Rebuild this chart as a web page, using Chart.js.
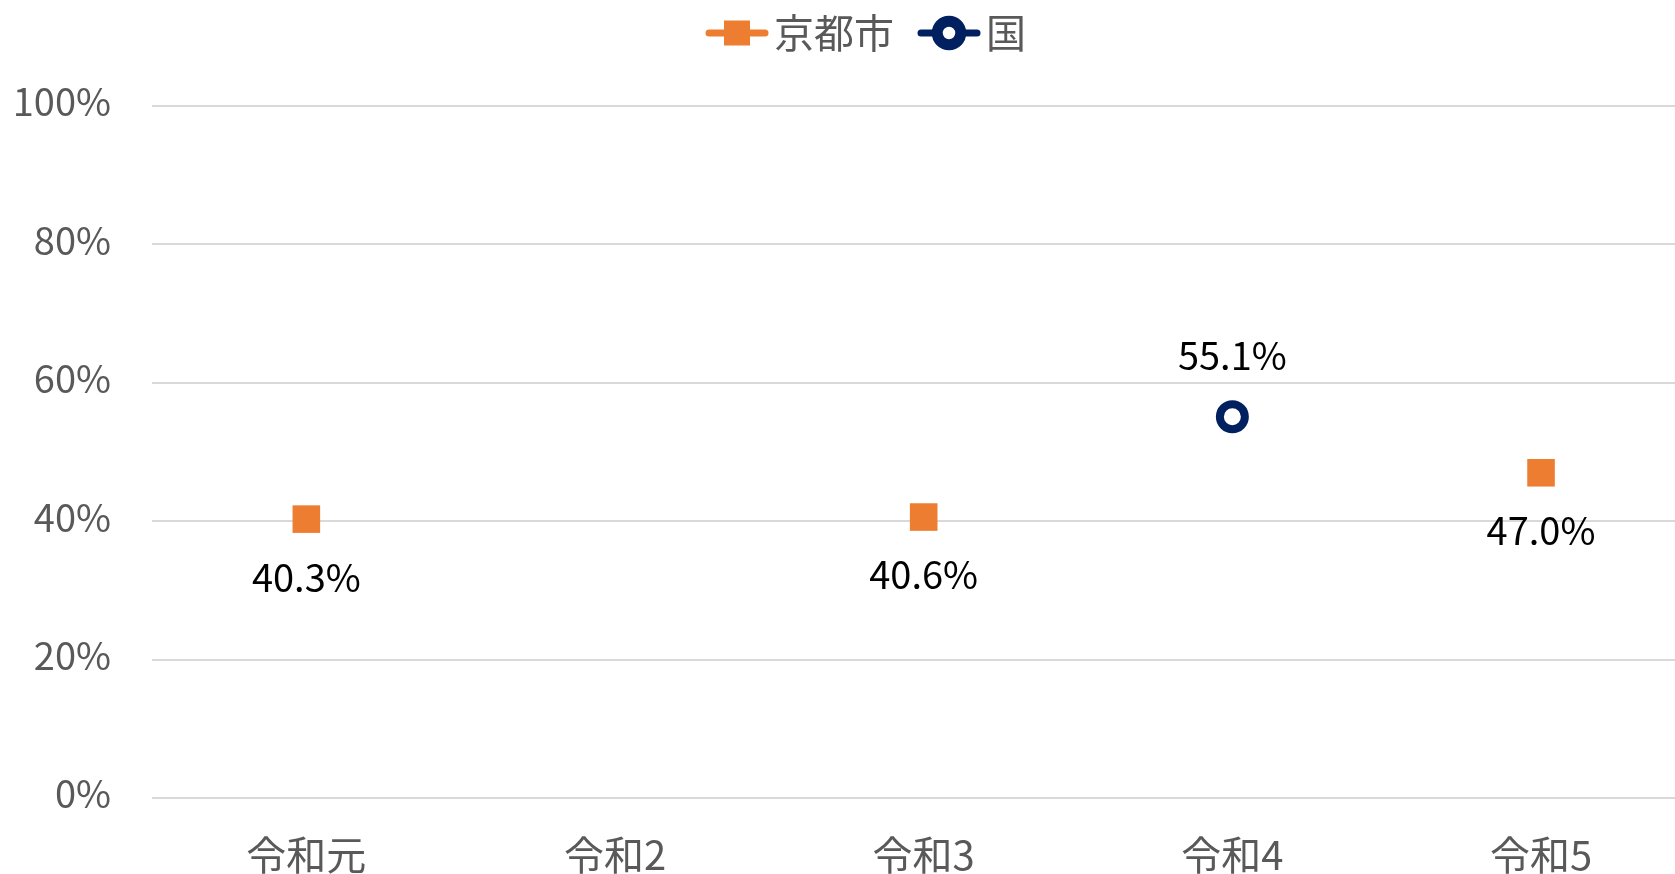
<!DOCTYPE html>
<html lang="ja">
<head>
<meta charset="utf-8">
<title>京都市・国</title>
<script src="https://cdn.jsdelivr.net/npm/chart.js"></script>
<style>
    html, body { margin: 0; padding: 0; background: #fff; overflow: hidden; }
    #wrap { position: relative; width: 1675px; height: 874px; }
</style>
</head>
<body>
<div id="wrap"><canvas id="rateChart"></canvas></div>
<script>
// chart data
const categories = ['令和元', '令和2', '令和3', '令和4', '令和5'];
const kyotoValues = [40.3, null, 40.6, null, 47.0];
const nationalValues = [null, null, null, 55.1, null];
const yTicks = [0, 20, 40, 60, 80, 100];

const FONT = '"Noto Sans CJK JP", "Noto Sans", sans-serif';
const ORANGE = '#ED7D31';
const NAVY = '#002060';

// category index -> point, so the x axis can run past the right edge
function toPoints(values) {
    return values.map((v, i) => ({ x: i, y: v }));
}

// value labels: below for 京都市, above for 国
const valueLabels = {
    id: 'valueLabels',
    afterDatasetsDraw(chart) {
        const ctx = chart.ctx;
        ctx.save();
        ctx.font = '38px ' + FONT;
        ctx.fillStyle = '#000000';
        ctx.textAlign = 'center';
        ctx.textBaseline = 'middle';
        chart.data.datasets.forEach(function(ds, i) {
            const meta = chart.getDatasetMeta(i);
            meta.data.forEach(function(pt, j) {
                const v = ds.data[j].y;
                if (v === null || v === undefined) return;
                ctx.fillText(v.toFixed(1) + '%', pt.x, pt.y + ds.labelOffset);
            });
        });
        ctx.restore();
    }
};

// legend: line with marker, then the name
const lineLegend = {
    id: 'lineLegend',
    afterDraw(chart) {
        const ctx = chart.ctx;
        const y = 33;
        const lineW = 62, gap = 6, itemGap = 24;
        ctx.save();
        ctx.font = '40px ' + FONT;
        const items = chart.data.datasets.map(ds => ({ ds: ds, tw: ctx.measureText(ds.label).width }));
        let total = 0;
        items.forEach((it, i) => { total += lineW + gap + it.tw + (i ? itemGap : 0); });
        let x = 866 - total / 2;
        items.forEach(function(it) {
            const ds = it.ds;
            ctx.strokeStyle = ds.borderColor;
            ctx.lineWidth = 7;
            ctx.lineCap = 'round';
            ctx.beginPath();
            ctx.moveTo(x + 3, y);
            ctx.lineTo(x + lineW - 3, y);
            ctx.stroke();
            const cx = x + lineW / 2;
            if (ds.pointStyle === 'rect') {
                ctx.fillStyle = ds.pointBackgroundColor;
                ctx.fillRect(cx - 13, y - 12.5, 26, 25);
            } else {
                ctx.beginPath();
                ctx.arc(cx, y, 11.75, 0, Math.PI * 2);
                ctx.fillStyle = '#ffffff';
                ctx.fill();
                ctx.lineWidth = 11;
                ctx.strokeStyle = ds.pointBorderColor;
                ctx.stroke();
            }
            ctx.fillStyle = '#595959';
            ctx.textAlign = 'left';
            ctx.textBaseline = 'middle';
            ctx.fillText(ds.label, x + lineW + gap, y);
            x += lineW + gap + it.tw + itemGap;
        });
        ctx.restore();
    }
};

const ctx = document.getElementById('rateChart');
new Chart(ctx, {
    type: 'line',
    data: {
        datasets: [
            {
                label: '京都市',
                data: toPoints(kyotoValues),
                borderColor: ORANGE,
                backgroundColor: ORANGE,
                borderWidth: 7,
                spanGaps: false,
                pointStyle: 'rect',
                pointRadius: 19.5,
                pointHoverRadius: 19.5,
                pointBackgroundColor: ORANGE,
                pointBorderColor: ORANGE,
                pointBorderWidth: 0,
                labelOffset: 58
            },
            {
                label: '国',
                data: toPoints(nationalValues),
                borderColor: NAVY,
                backgroundColor: '#ffffff',
                borderWidth: 7,
                spanGaps: false,
                pointStyle: 'circle',
                pointRadius: 12.5,
                pointHoverRadius: 12.5,
                pointBackgroundColor: '#ffffff',
                pointBorderColor: NAVY,
                pointBorderWidth: 8,
                labelOffset: -61
            }
        ]
    },
    options: {
        responsive: true,
        maintainAspectRatio: false,
        animation: false,
        layout: {
            autoPadding: false,
            padding: { top: 106, left: 0, right: 0, bottom: 0 }
        },
        scales: {
            x: {
                type: 'linear',
                // the last category slot is cut by the right edge in the original
                min: -0.5,
                max: 4.434,
                grid: { display: false, drawTicks: false },
                border: { display: false },
                afterBuildTicks: function(scale) {
                    scale.ticks = categories.map((c, i) => ({ value: i }));
                },
                ticks: {
                    color: '#595959',
                    font: { family: FONT, size: 40 },
                    padding: 33,
                    maxRotation: 0,
                    autoSkip: false,
                    callback: function(value) { return categories[value]; }
                },
                afterFit: function(scale) {
                    scale.height = 76;
                    scale.paddingLeft = 0;
                    scale.paddingRight = 0;
                }
            },
            y: {
                min: 0,
                max: 100,
                grid: { color: '#D9D9D9', lineWidth: 2, drawTicks: false },
                border: { display: false },
                afterBuildTicks: function(scale) {
                    scale.ticks = yTicks.map(v => ({ value: v }));
                },
                ticks: {
                    color: '#595959',
                    font: { family: FONT, size: 38 },
                    padding: 41,
                    labelOffset: -4,
                    callback: function(value) { return value + '%'; }
                },
                afterFit: function(scale) { scale.width = 152; }
            }
        },
        plugins: {
            legend: { display: false },
            tooltip: { enabled: false }
        }
    },
    plugins: [valueLabels, lineLegend]
});
</script>
</body>
</html>
